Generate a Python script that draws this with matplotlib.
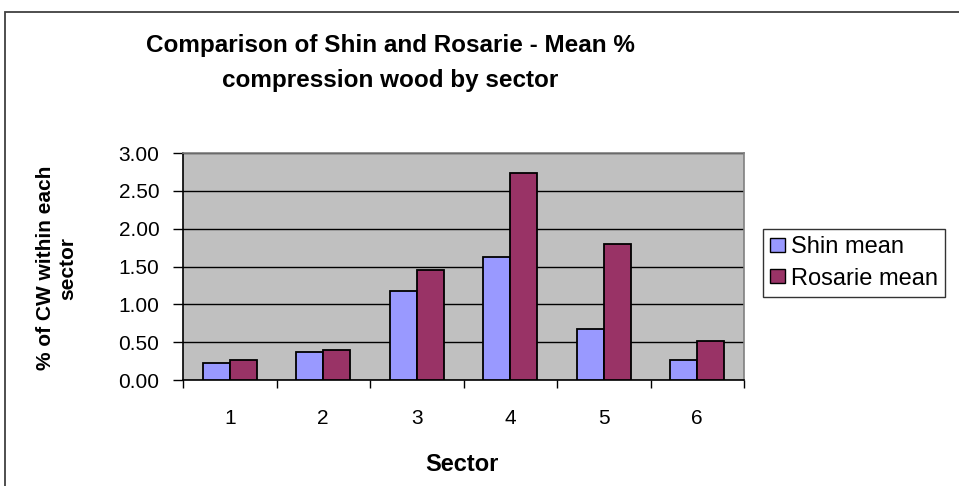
import matplotlib
matplotlib.use("Agg")
import matplotlib.pyplot as plt
import numpy as np
from matplotlib.patches import Rectangle, Patch

sectors = ["1", "2", "3", "4", "5", "6"]
shin_mean = [0.23, 0.37, 1.18, 1.63, 0.68, 0.27]
rosarie_mean = [0.27, 0.39, 1.45, 2.73, 1.80, 0.52]
series_names = ["Shin mean", "Rosarie mean"]
y_ticks = [0.0, 0.5, 1.0, 1.5, 2.0, 2.5, 3.0]

W, H = 959, 486
plt.rcParams['font.family'] = ['Liberation Sans', 'DejaVu Sans']
fig = plt.figure(figsize=(W / 100, H / 100), dpi=100)
fig.patch.set_facecolor('white')

# outer chart border (clipped at right and bottom)
fig.patches.append(Rectangle((5 / W, -0.1), 2.0, (H - 12) / H + 0.1,
                             transform=fig.transFigure, fill=False,
                             edgecolor='#404040', linewidth=1.3))

ax = fig.add_axes([183 / W, 1 - 380 / H, 561 / W, 227 / H])
ax.set_facecolor('#C0C0C0')

x = np.arange(1, len(sectors) + 1)
w = 0.29
ax.bar(x - w / 2, shin_mean, width=w, color='#9999FF', edgecolor='black',
       linewidth=1.3, zorder=3, label=series_names[0])
ax.bar(x + w / 2, rosarie_mean, width=w, color='#993366', edgecolor='black',
       linewidth=1.3, zorder=3, label=series_names[1])

ax.set_xlim(0.5, len(sectors) + 0.5)
ax.set_ylim(0, 3.0)
ax.set_yticks(y_ticks)
ax.set_yticklabels([f"{v:.2f}" for v in y_ticks], fontsize=15)
ax.yaxis.grid(True, color='black', linewidth=1.0, zorder=1)
ax.set_axisbelow(True)

ax.set_xticks(np.arange(0.5, len(sectors) + 1.0, 1.0))
ax.set_xticklabels([])
ax.set_xticks(x, minor=True)
ax.set_xticklabels(sectors, minor=True, fontsize=15)
ax.tick_params(axis='x', which='major', length=6, width=1, color='black', direction='out')
ax.tick_params(axis='x', which='minor', length=0, pad=21)
ax.tick_params(axis='y', length=7, width=1, color='black', pad=10)

for s in ['top', 'right']:
    ax.spines[s].set_color('#808080')
    ax.spines[s].set_linewidth(1.2)
for s in ['left', 'bottom']:
    ax.spines[s].set_color('black')
    ax.spines[s].set_linewidth(1.2)

fig.text(390 / W, 1 - 63 / H,
         "Comparison of Shin and Rosarie - Mean %\ncompression wood by sector",
         ha='center', va='center', fontsize=17.5, fontweight='bold',
         linespacing=1.7)

fig.text(57 / W, 1 - 268 / H, "% of CW within each\nsector", rotation=90,
         ha='center', va='center', fontsize=15, fontweight='bold',
         multialignment='center', linespacing=1.2)

fig.text(462 / W, 1 - 464 / H, "Sector", ha='center', va='center',
         fontsize=17, fontweight='bold')

handles = [Patch(facecolor='#9999FF', edgecolor='black', linewidth=1.0),
           Patch(facecolor='#993366', edgecolor='black', linewidth=1.0)]
leg = fig.legend(handles, series_names, loc='upper left',
                 bbox_to_anchor=(763 / W, 1 - 229 / H),
                 fontsize=17, frameon=True, fancybox=False,
                 edgecolor='black', handlelength=0.65, handleheight=0.55,
                 handletextpad=0.25, borderpad=0.3, labelspacing=0.4,
                 borderaxespad=0)
leg.get_frame().set_linewidth(1.0)

fig.savefig("out.png", dpi=100)
